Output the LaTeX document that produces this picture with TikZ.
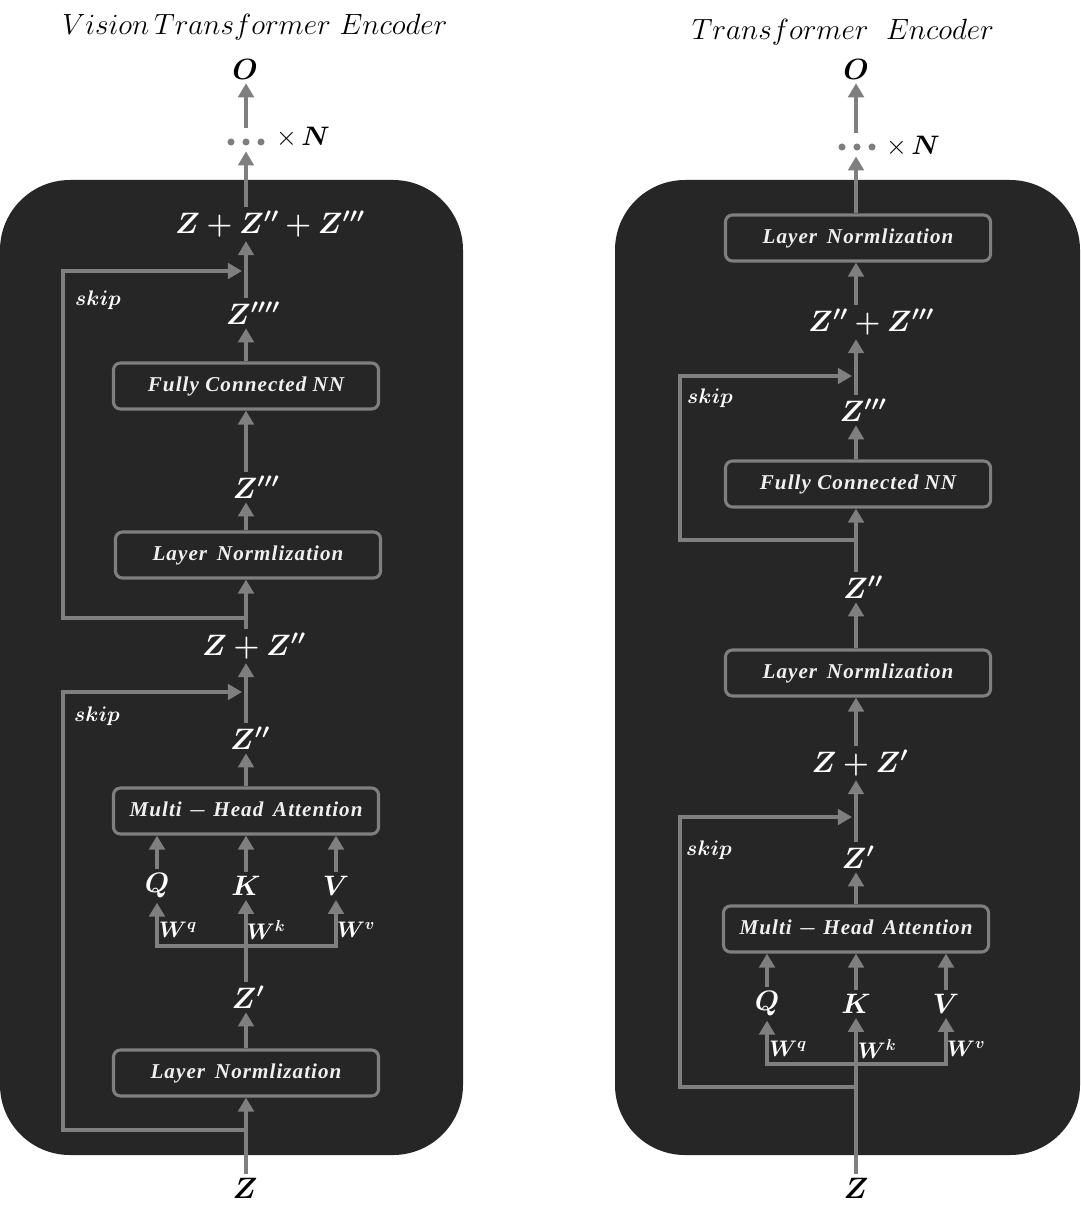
\RequirePackage{fix-cm}
\documentclass[tikz,border=0pt]{standalone}
\usepackage{amsmath,bm}
\usepackage{fontspec}
\newfontfamily\boxfont[LetterSpace=5]{Liberation Serif}
\usetikzlibrary{arrows.meta,calc}
\definecolor{panel}{HTML}{262626}
\definecolor{lgray}{HTML}{7F7F7F}
\newcommand\szZ{\fontsize{21}{24}\selectfont}
\newcommand\szQ{\fontsize{20}{23}\selectfont}
\newcommand\szW{\fontsize{16}{18}\selectfont}
\newcommand\szS{\fontsize{15}{17}\selectfont}
\newcommand\szB{\fontsize{15}{17}\selectfont}
\newcommand\szT{\fontsize{20.8}{23}\selectfont}
\begin{document}
\begin{tikzpicture}[x=0.025cm,y=-0.025cm,
  lbl/.style={inner sep=3pt,outer sep=0pt,text=white,font=\szZ},
  qkv/.style={inner sep=3pt,outer sep=0pt,text=white,font=\szQ},
  wlbl/.style={inner sep=0pt,text=white,font=\szW},
  skiplbl/.style={inner sep=0pt,text=white,font=\szS},
  outlbl/.style={inner sep=3pt,outer sep=0pt,text=black,font=\szT},
  ttl/.style={inner sep=0pt,text=black,font=\szT},
  layerbox/.style={draw=lgray,line width=2.2pt,rounded corners=5pt,fill=panel,
    text=white!94!black,font=\szB\boxfont\bfseries\itshape,minimum width=6.625cm,minimum height=1.15cm,inner sep=0pt},
  arr/.style={draw=lgray,line width=3.5pt,-{Triangle[length=10pt,width=11pt]}},
  gdot/.style={circle,fill=lgray,inner sep=0pt,minimum size=5pt}]
\useasboundingbox[fill=white] (0,0) rectangle (1080,1208);
% panels
\fill[panel,rounded corners=1.75cm] (0,180) rectangle (463,1155);
\fill[panel,rounded corners=1.75cm] (615,180) rectangle (1080,1155);

% ================= LEFT =================
\coordinate (cL) at (246,0);
\node[ttl] (titleL) at (255,27) {$Vision\,Transformer\ Encoder$};
\node[outlbl] (oL) at (245,69) {$\bm{O}$};
\node[gdot] (dotL) at (246,142) {};
\node[gdot] (dotLa) at (231,142) {};
\node[gdot] (dotLb) at (261,142) {};
\node[ttl,font=\fontsize{19}{22}\selectfont] (xnL) at (303,137) {$\times\,\bm{N}$};
\node[lbl] (sum3L) at (270,224) {$\bm{Z+Z''+Z'''}$};
\node[lbl] (zppppL) at (253,313) {$\bm{Z''''}$};
\node[layerbox] (fcL) at (246,386) {Fully Connected NN};
\node[lbl] (zpppL) at (256,487) {$\bm{Z'''}$};
\node[layerbox] (ln2L) at (248,555) {Layer\, Normlization};
\node[lbl] (sum2L) at (254,646) {$\bm{Z+Z''}$};
\node[lbl] (zppL) at (250,738) {$\bm{Z''}$};
\node[layerbox] (mhaL) at (246,811) {Multi {\boldmath$-$} Head\, Attention};
\node[qkv] (qL) at (157,886) {$\bm{Q}$};
\node[qkv] (kL) at (246,886) {$\bm{K}$};
\node[qkv] (vL) at (336,886) {$\bm{V}$};
\node[wlbl] (wqL) at (178,930) {$\bm{W^q}$};
\node[wlbl] (wkL) at (266,930) {$\bm{W^k}$};
\node[wlbl] (wvL) at (356,930) {$\bm{W^v}$};
\node[lbl] (zpL) at (248,997) {$\bm{Z'}$};
\node[layerbox] (ln1L) at (246,1073) {Layer\, Normlization};
\node[outlbl,font=\szZ] (zL) at (245,1188) {$\bm{Z}$};
\node[skiplbl] (skipL1) at (97,716) {$\bm{skip}$};
\node[skiplbl] (skipL2) at (98,300) {$\bm{skip}$};

\coordinate (trL) at (246,946);
\coordinate (skxL) at (63,0);
\coordinate (sk1sL) at (246,1130);
\coordinate (sk1eL) at (242,692);
\coordinate (sk2sL) at (246,618);
\coordinate (sk2eL) at (242,271);

\draw[arr] (zL.north -| cL) -- (ln1L.south -| cL);
\draw[arr] (ln1L.north -| cL) -- (zpL.south -| cL);
\draw[arr] (zpL.north -| cL) -- (kL.south -| cL);
\draw[arr] (trL) -| (qL.south);
\draw[arr] (trL) -| (vL.south);
\draw[arr] (qL.north) -- (mhaL.south -| qL.north);
\draw[arr] (kL.north) -- (mhaL.south -| kL.north);
\draw[arr] (vL.north) -- (mhaL.south -| vL.north);
\draw[arr] (mhaL.north -| cL) -- (zppL.south -| cL);
\draw[arr] (zppL.north -| cL) -- (sum2L.south -| cL);
\draw[arr] (sum2L.north -| cL) -- (ln2L.south -| cL);
\draw[arr] (ln2L.north -| cL) -- (zpppL.south -| cL);
\draw[arr] (zpppL.north -| cL) -- (fcL.south -| cL);
\draw[arr] (fcL.north -| cL) -- (zppppL.south -| cL);
\draw[arr] (zppppL.north -| cL) -- (sum3L.south -| cL);
\draw[arr] (sum3L.north -| cL) -- ([yshift=-4pt]dotL.south);
\draw[arr] ([yshift=7pt]dotL.north) -- (oL.south -| cL);
\draw[arr] (sk1sL) -- (sk1sL -| skxL) |- (sk1eL);
\draw[arr] (sk2sL) -- (sk2sL -| skxL) |- (sk2eL);

% ================= RIGHT =================
\coordinate (cR) at (856,0);
\node[ttl] (titleR) at (843,32) {$Transformer\ \ Encoder$};
\node[outlbl] (oR) at (856,69) {$\bm{O}$};
\node[gdot] (dotR) at (857,147) {};
\node[gdot] (dotRa) at (842,147) {};
\node[gdot] (dotRb) at (872,147) {};
\node[ttl,font=\fontsize{19}{22}\selectfont] (xnR) at (913,146) {$\times\,\bm{N}$};
\node[layerbox] (ln3R) at (858,238) {Layer\, Normlization};
\node[lbl] (sum2R) at (871,322) {$\bm{Z''+Z'''}$};
\node[lbl] (zpppR) at (863,410) {$\bm{Z'''}$};
\node[layerbox] (fcR) at (858,484) {Fully Connected NN};
\node[lbl] (zppR) at (863,587) {$\bm{Z''}$};
\node[layerbox] (ln2R) at (858,673) {Layer\, Normlization};
\node[lbl] (sum1R) at (860,763) {$\bm{Z+Z'}$};
\node[lbl] (zpR) at (858,857) {$\bm{Z'}$};
\node[layerbox] (mhaR) at (856,929) {Multi {\boldmath$-$} Head\, Attention};
\node[qkv] (qR) at (767,1004) {$\bm{Q}$};
\node[qkv] (kR) at (856,1004) {$\bm{K}$};
\node[qkv] (vR) at (946,1004) {$\bm{V}$};
\node[wlbl] (wqR) at (788,1049) {$\bm{W^q}$};
\node[wlbl] (wkR) at (877,1049) {$\bm{W^k}$};
\node[wlbl] (wvR) at (966,1049) {$\bm{W^v}$};
\node[outlbl,font=\szZ] (zR) at (856,1188) {$\bm{Z}$};
\node[skiplbl] (skipR1) at (709,850) {$\bm{skip}$};
\node[skiplbl] (skipR2) at (710,398) {$\bm{skip}$};

\coordinate (trR) at (856,1064);
\coordinate (skxR) at (680,0);
\coordinate (sk1sR) at (856,1087);
\coordinate (sk1eR) at (852,817);
\coordinate (sk2sR) at (856,540);
\coordinate (sk2eR) at (852,376);

\draw[arr] (zR.north -| cR) -- (kR.south -| cR);
\draw[arr] (trR) -| (qR.south);
\draw[arr] (trR) -| (vR.south);
\draw[arr] (qR.north) -- (mhaR.south -| qR.north);
\draw[arr] (kR.north) -- (mhaR.south -| kR.north);
\draw[arr] (vR.north) -- (mhaR.south -| vR.north);
\draw[arr] (mhaR.north -| cR) -- (zpR.south -| cR);
\draw[arr] (zpR.north -| cR) -- (sum1R.south -| cR);
\draw[arr] (sum1R.north -| cR) -- (ln2R.south -| cR);
\draw[arr] (ln2R.north -| cR) -- (zppR.south -| cR);
\draw[arr] (zppR.north -| cR) -- (fcR.south -| cR);
\draw[arr] (fcR.north -| cR) -- (zpppR.south -| cR);
\draw[arr] (zpppR.north -| cR) -- (sum2R.south -| cR);
\draw[arr] (sum2R.north -| cR) -- (ln3R.south -| cR);
\draw[arr] (ln3R.north -| cR) -- ([yshift=-4pt]dotR.south -| cR);
\draw[arr] ([yshift=7pt]dotR.north -| cR) -- (oR.south -| cR);
\draw[arr] (sk1sR) -- (sk1sR -| skxR) |- (sk1eR);
\draw[arr] (sk2sR) -- (sk2sR -| skxR) |- (sk2eR);
\end{tikzpicture}
\end{document}
